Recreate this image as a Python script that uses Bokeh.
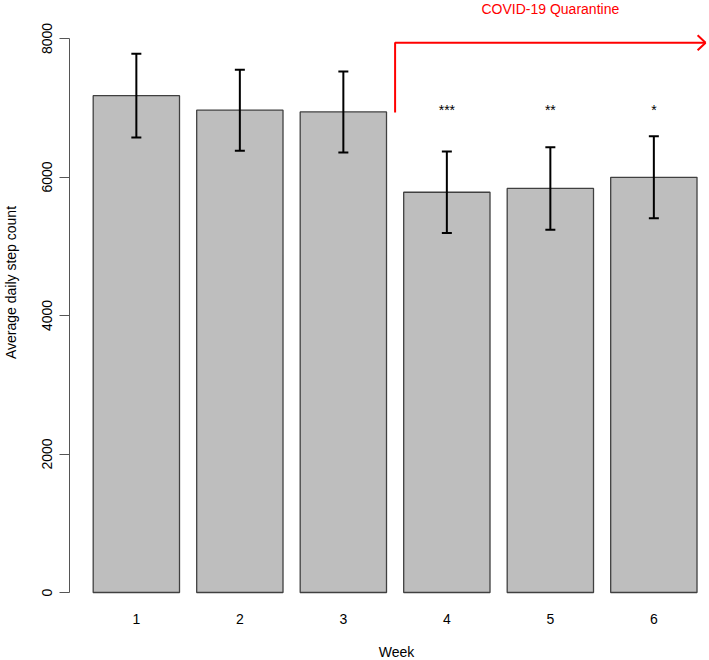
import math
from bokeh.plotting import figure
from bokeh.models import Range1d, FixedTicker, ColumnDataSource, Whisker, TeeHead
from bokeh.core.properties import value
from bokeh.embed import file_html
from bokeh.resources import INLINE

# ---- data ----
weeks = [1, 2, 3, 4, 5, 6]
week_labels = ["1", "2", "3", "4", "5", "6"]
mean_steps = [7175, 6965, 6940, 5780, 5835, 5995]
sem_steps = [605, 585, 585, 590, 595, 592]
significance = ["", "", "", "***", "**", "*"]
sig_y = 7000
y_ticks = [0, 2000, 4000, 6000, 8000]
quarantine_start = 3.5
quarantine_end = 6.5
arrow_y0 = 6930
arrow_y1 = 7940
annotation_text = "COVID-19 Quarantine"
annotation_x = 5
annotation_y = 8430
x_title = "Week"
y_title = "Average daily step count"

FONT = "Liberation Sans"

# ---- layout (pixel anchors of the canvas) ----
W, H = 709, 660
PX_PER_X = 103.5        # pixels per week
PX_PER_Y = 0.06925      # pixels per step
X1_PX = 135.85          # pixel column of week 1
Y0_PX = 592.0           # pixel row of 0 steps


def px_to_x(px):
    return 1 + (px - X1_PX) / PX_PER_X


def px_to_y(py):
    return (Y0_PX - py) / PX_PER_Y


p = figure(width=W, height=H,
           x_range=Range1d(px_to_x(0), px_to_x(W)),
           y_range=Range1d(px_to_y(H), px_to_y(0)),
           output_backend="svg", toolbar_location=None,
           min_border_left=0, min_border_right=0, min_border_top=0, min_border_bottom=0)
p.outline_line_color = None
p.xgrid.visible = False
p.ygrid.visible = False
p.background_fill_color = "white"
p.border_fill_color = "white"

lo = [m - s for m, s in zip(mean_steps, sem_steps)]
hi = [m + s for m, s in zip(mean_steps, sem_steps)]
src = ColumnDataSource(dict(x=weeks, top=mean_steps, lower=lo, upper=hi))

p.vbar(x="x", top="top", bottom=0, width=0.834, source=src,
       fill_color="#BEBEBE", line_color="#404040", line_width=1.3)

wh = Whisker(base="x", upper="upper", lower="lower", source=src, level="overlay",
             line_color="black", line_width=2,
             upper_head=TeeHead(size=10, line_color="black", line_width=2),
             lower_head=TeeHead(size=10, line_color="black", line_width=2))
p.add_layout(wh)

# significance stars
star_x = [w for w, s in zip(weeks, significance) if s]
star_t = [s for s in significance if s]
p.text(x=star_x, y=[sig_y] * len(star_x), text=star_t, text_align="center",
       text_baseline="middle", text_font=value(FONT), text_font_size="14px",
       text_color="black", y_offset=2)

# quarantine arrow
p.line(x=[quarantine_start, quarantine_start, quarantine_end],
       y=[arrow_y0, arrow_y1, arrow_y1], line_color="red", line_width=2)
hd_x = 8 / PX_PER_X
hd_y = 7.5 / PX_PER_Y
p.segment(x0=[quarantine_end - hd_x, quarantine_end - hd_x],
          y0=[arrow_y1 + hd_y, arrow_y1 - hd_y],
          x1=[quarantine_end, quarantine_end], y1=[arrow_y1, arrow_y1],
          line_color="red", line_width=2)
p.text(x=[annotation_x], y=[annotation_y], text=[annotation_text], text_align="center",
       text_baseline="middle", text_color="red", text_font=value(FONT),
       text_font_size="14px")

# axes (placed at fixed data locations)
yax = p.yaxis[0]
yax.fixed_location = px_to_x(69)
yax.ticker = FixedTicker(ticks=y_ticks)
yax.bounds = (0, 8000)
yax.major_label_orientation = "vertical"
yax.major_tick_out = 10
yax.major_tick_in = 0
yax.minor_tick_line_color = None
yax.axis_line_color = "#555555"
yax.major_tick_line_color = "#555555"
yax.major_label_text_font = FONT
yax.major_label_text_font_size = "14px"
yax.major_label_text_color = "black"
yax.major_label_standoff = 8

xax = p.xaxis[0]
xax.fixed_location = px_to_y(600)
xax.ticker = FixedTicker(ticks=weeks)
xax.major_label_overrides = {w: l for w, l in zip(weeks, week_labels)}
xax.axis_line_color = None
xax.major_tick_line_color = None
xax.minor_tick_line_color = None
xax.major_label_text_font = FONT
xax.major_label_text_font_size = "14px"
xax.major_label_text_color = "black"
xax.major_label_standoff = 7

# axis titles
p.text(x=[px_to_x(396)], y=[px_to_y(651)], text=[x_title], text_align="center",
       text_baseline="middle", text_font=value(FONT), text_font_size="14px",
       text_color="black")
p.text(x=[px_to_x(10)], y=[px_to_y(282)], text=[y_title], angle=math.pi / 2,
       text_align="center", text_baseline="middle", text_font=value(FONT),
       text_font_size="14px", text_color="black")

open("out.html", "w").write(file_html(p, INLINE))
